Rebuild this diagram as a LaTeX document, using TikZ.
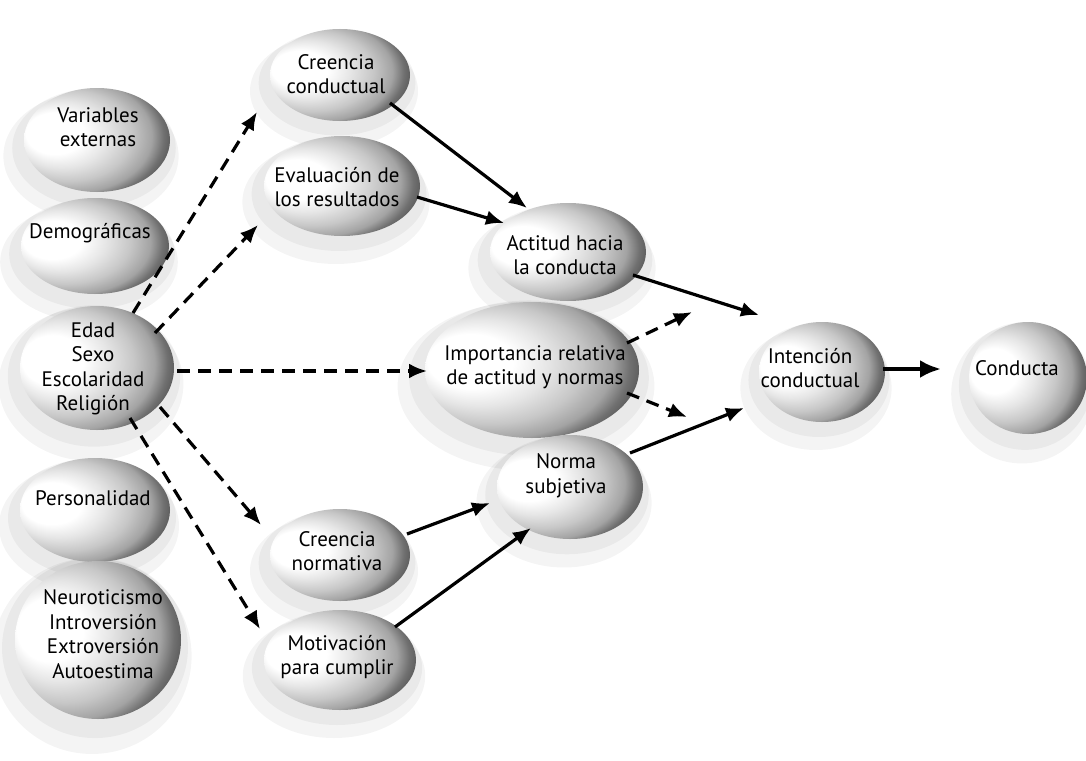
\documentclass[tikz,border=0pt]{standalone}
\usepackage{fontspec}
\setmainfont{PT Sans}
\usetikzlibrary{arrows.meta,shapes.geometric}

% light side on the left, dark crescent on the right
% (a filled path takes the central 50bp square of the shading)
\pgfdeclareradialshading{blobshade}{\pgfpoint{-18bp}{4bp}}{%
  color(0bp)=(white); color(10bp)=(white); color(16bp)=(black!10);
  color(22bp)=(black!22); color(27bp)=(black!36); color(30bp)=(black!56);
  color(33bp)=(black!68); color(50bp)=(black!72)}

\tikzset{
  blob/.style={ellipse, draw=none, shading=blobshade, inner sep=0pt},
  lbl/.style={align=center, font=\fontsize{21}{24.5}\selectfont, inner sep=0pt},
  link/.style={line width=3.2pt, -{Latex[length=18pt,width=15pt]}},
  dlink/.style={link, dash pattern=on 13pt off 8pt},
}

% soft grey haze under a sphere: x, y, width, height
\newcommand\hazeat[4]{%
  \fill[black, opacity=.045] (#1-6,#2+16) ellipse [x radius=0.6*#3, y radius=0.62*#4];
  \fill[black, opacity=.045] (#1-3,#2+8) ellipse [x radius=0.56*#3, y radius=0.57*#4];}
% shaded sphere: name, x, y, width, height
\newcommand\sphereat[5]{%
  \node[blob, minimum width=#4pt, minimum height=#5pt] (#1) at (#2,#3) {};}

\begin{document}
\begin{tikzpicture}[x=1pt, y=-1pt]
\useasboundingbox (0,0) rectangle (1086,760);
\fill[white] (0,0) rectangle (1086,760);

% haze
\hazeat{97}{140}{146}{104}
\hazeat{95}{246}{148}{96}
\hazeat{97}{368}{154}{124}
\hazeat{95}{510}{150}{104}
\hazeat{98}{640}{166}{158}
\hazeat{340}{75}{140}{92}
\hazeat{342}{186}{156}{100}
\hazeat{568}{252}{156}{98}
\hazeat{532}{370}{214}{136}
\hazeat{570}{487}{146}{104}
\hazeat{340}{555}{140}{92}
\hazeat{340}{660}{152}{100}
\hazeat{822}{372}{126}{100}
\hazeat{1028}{378}{118}{112}

% spheres, back to front
\sphereat{vext}{97}{140}{146}{104}
\sphereat{demo}{95}{246}{148}{96}
\sphereat{edad}{97}{368}{154}{124}
\sphereat{pers}{95}{510}{150}{104}
\sphereat{neur}{98}{640}{166}{158}
\sphereat{cc}{340}{75}{140}{92}
\sphereat{eval}{342}{186}{156}{100}
\sphereat{act}{568}{252}{156}{98}
\sphereat{imp}{532}{370}{214}{136}
\sphereat{norma}{570}{487}{146}{104}
\sphereat{cn}{340}{555}{140}{92}
\sphereat{mot}{340}{660}{152}{100}
\sphereat{int}{822}{372}{126}{100}
\sphereat{cond}{1028}{378}{118}{112}

% labels
\node[lbl] (vext-t)  at (98,127)   {Variables\\externas};
\node[lbl] (demo-t)  at (90,233)   {Demográficas};
\node[lbl] (edad-t)  at (93,369)   {Edad\\Sexo\\Escolaridad\\Religión};
\node[lbl] (pers-t)  at (93,498)   {Personalidad};
\node[lbl] (neur-t)  at (103,634)  {Neuroticismo\\Introversión\\Extroversión\\Autoestima};
\node[lbl] (cc-t)    at (336,74)   {Creencia\\conductual};
\node[lbl] (eval-t)  at (337,187)  {Evaluación de\\los resultados};
\node[lbl] (act-t)   at (565,255)  {Actitud hacia\\la conducta};
\node[lbl] (imp-t)   at (535,367)  {Importancia relativa\\de actitud y normas};
\node[lbl] (norma-t) at (566,476)  {Norma\\subjetiva};
\node[lbl] (cn-t)    at (337,551)  {Creencia\\normativa};
\node[lbl] (mot-t)   at (337,657)  {Motivación\\para cumplir};
\node[lbl] (int-t)   at (810,368)  {Intención\\conductual};
\node[lbl] (cond-t)  at (1017,368) {Conducta};

% dashed influences of the external variables
\draw[dlink] ([shift={(36,-55)}]edad.center) -- ([shift={(-83,37)}]cc.center);
\draw[dlink] ([shift={(58,-35)}]edad.center) -- ([shift={(-84,39)}]eval.center);
\draw[dlink] ([shift={(80,3)}]edad.center) -- ([shift={(-105,1)}]imp.center);
\draw[dlink] ([shift={(63,39)}]edad.center) -- ([shift={(-79,-30)}]cn.center);
\draw[dlink] ([shift={(33,50)}]edad.center) -- ([shift={(-80,-31)}]mot.center);

% beliefs to attitude and norm
\draw[link] ([shift={(50,28)}]cc.center) -- ([shift={(-41,-44)}]act.center);
\draw[link] ([shift={(75,11)}]eval.center) -- ([shift={(-64,-29)}]act.center);
\draw[link] ([shift={(67,-21)}]cn.center) -- ([shift={(-80,16)}]norma.center);
\draw[link] ([shift={(55,-33)}]mot.center) -- ([shift={(-39,41)}]norma.center);

% attitude and norm to intention
\draw[link] ([shift={(65,23)}]act.center) -- ([shift={(-63,-57)}]int.center);
\draw[link] ([shift={(60,-34)}]norma.center) -- ([shift={(-78,36)}]int.center);
\draw[dlink] ([shift={(95,-27)}]imp.center) -- ([shift={(-130,-60)}]int.center);
\draw[dlink] ([shift={(95,23)}]imp.center) -- ([shift={(-135,45)}]int.center);

% intention to behaviour
\draw[line width=4pt, -{Latex[length=21pt,width=18pt]}]
  ([shift={(61,-3)}]int.center) -- ([shift={(-87,-9)}]cond.center);
\end{tikzpicture}
\end{document}
